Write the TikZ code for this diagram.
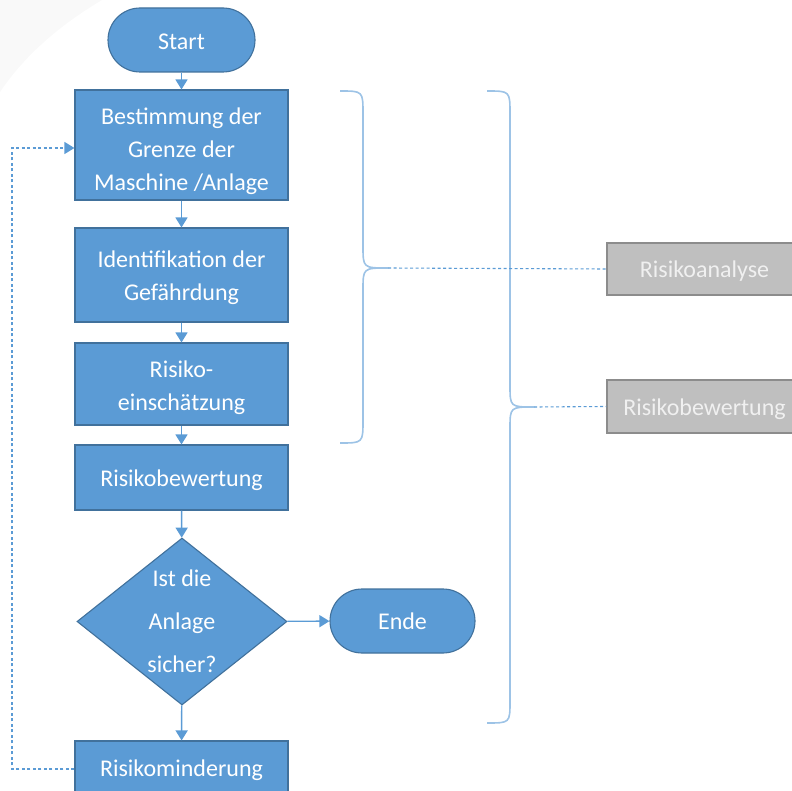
\documentclass[tikz,border=0pt]{standalone}
\usepackage{fontspec}
\setmainfont{Carlito}
\usetikzlibrary{shapes.geometric,arrows.meta}
\definecolor{boxblue}{HTML}{5B9BD5}
\definecolor{boxedge}{HTML}{41719C}
\definecolor{linkblue}{HTML}{5B9BD5}
\definecolor{bracecol}{HTML}{9DC3E6}
\definecolor{greyfill}{HTML}{BFBFBF}
\definecolor{greyedge}{HTML}{8C8C8C}
\tikzset{
  every node/.style={inner sep=0pt},
  boxtext/.style={font=\fontsize{24}{33}\selectfont, text=white, align=center},
  flowbox/.style={draw=boxedge, fill=boxblue, line width=1.1pt, minimum width=213pt},
  pill/.style={draw=boxedge, fill=boxblue, line width=1.1pt, rounded corners=32pt, minimum height=64pt},
  decide/.style={draw=boxedge, fill=boxblue, line width=1.1pt, diamond, aspect=1.26,
                 minimum width=210pt, minimum height=167pt},
  greybox/.style={draw=greyedge, fill=greyfill, line width=1.1pt, minimum width=189pt},
  greytext/.style={boxtext, text=white!94!black},
  flow/.style={draw=linkblue, line width=1.4pt, -{Triangle[length=10pt,width=12pt]}},
  fbline/.style={draw=linkblue, line width=1.1pt, dash pattern=on 3pt off 2.5pt},
  bracestyle/.style={draw=bracecol, line width=1.6pt},
}
\begin{document}
\begin{tikzpicture}[x=1pt,y=-1pt]
\useasboundingbox (0,0) rectangle (792,791);
\fill[gray!5] (0,0) -- (102,0) .. controls (60,25) and (25,55) .. (0,92) -- cycle;

\node[pill, minimum width=147pt] (start) at (181.5,40) {};
\node[boxtext] at ([yshift=-2pt]start) {Start};
\node[flowbox, minimum height=110pt] (b1) at (181.5,145) {};
\node[boxtext] at ([yshift=-6pt]b1) {Bestimmung der\\Grenze der\\Maschine /Anlage};
\node[flowbox, minimum height=94pt] (b2) at (181.5,275) {};
\node[boxtext] at ([yshift=-3pt]b2) {Identifikation der\\Gefährdung};
\node[flowbox, minimum height=82pt] (b3) at (181.5,384) {};
\node[boxtext] at ([yshift=-4pt]b3) {Risiko-\\einschätzung};
\node[flowbox, minimum height=65pt] (b4) at (181.5,477.5) {};
\node[boxtext] at ([yshift=-3pt]b4) {Risikobewertung};
\node[decide] (d) at (182,621.5) {};
\node[boxtext, font=\fontsize{24}{43}\selectfont] at (d) {Ist die\\Anlage\\sicher?};
\node[pill, minimum width=145pt] (ende) at (402.5,621) {};
\node[boxtext] at (ende) {Ende};
\node[flowbox, minimum height=56pt] (rm) at (181.5,769) {};
\node[boxtext] at ([yshift=-1pt]rm) {Risikominderung};

\node[greybox, minimum height=52pt] (ra) at (701.5,269) {};
\node[greytext] at ([xshift=3pt,yshift=-2pt]ra) {Risikoanalyse};
\node[greybox, minimum height=53pt] (rb) at (701.5,406.5) {};
\node[greytext] at ([xshift=3pt,yshift=-3pt]rb) {Risikobewertung};

\draw[flow] (start) -- (b1);
\draw[flow] (b1) -- (b2);
\draw[flow] (b2) -- (b3);
\draw[flow] (b3) -- (b4);
\draw[flow] (b4) -- (d);
\draw[flow] (d) -- (rm);
\draw[flow] (d) -- (ende);

\coordinate (fbl) at (12,769);
\draw[fbline, -{Triangle[length=10pt,width=12pt]}] (rm.west) -- (fbl) |- ([yshift=-3pt]b1.west);

% braces
\coordinate (br1) at (388,268);
\coordinate (br2) at (534,407);
\draw[bracestyle] (340,91) .. controls (363,91) .. (363,114) -- (363,246) .. controls (363,268) .. (br1);
\draw[bracestyle] (br1) .. controls (363,268) .. (363,290) -- (363,420) .. controls (363,443) .. (340,443);
\draw[bracestyle] (487,91) .. controls (510,91) .. (510,114) -- (510,385) .. controls (510,407) .. (br2);
\draw[bracestyle] (br2) .. controls (510,407) .. (510,429) -- (510,701) .. controls (510,723) .. (487,723);

\draw[fbline] (br1) -- (ra.west);
\draw[fbline] (br2) -- (rb.west);
\end{tikzpicture}
\end{document}
